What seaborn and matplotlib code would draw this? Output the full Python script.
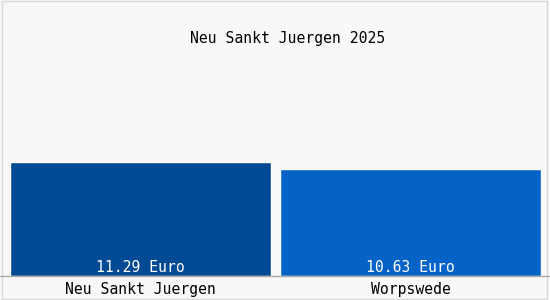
import matplotlib
matplotlib.use("Agg")
import matplotlib.pyplot as plt
import seaborn as sns
import pandas as pd
from matplotlib.patches import Rectangle
from matplotlib.lines import Line2D

categories = ["Neu Sankt Juergen", "Worpswede"]
values = [11.29, 10.63]
value_labels = ["11.29 Euro", "10.63 Euro"]
title = "Neu Sankt Juergen 2025"
colors = ["#034a94", "#0563c8"]

sns.set_theme(style="white")
plt.rcParams["font.family"] = ["DejaVu Sans Mono", "DejaVu Sans"]

bg = "#f8f8f8"
W, H = 550, 300
fig = plt.figure(figsize=(5.5, 3.0), dpi=100, facecolor=bg)
bw = 261 / 270
# axes: x from 10 to 541 px, bottom at 276 px, top at 20 px (top-origin)
ax = fig.add_axes([10 / W, 24 / H, 531 / W, 256 / H])
ax.set_facecolor(bg)

df = pd.DataFrame({"cat": categories, "val": values})
sns.barplot(data=df, x="cat", y="val", hue="cat", palette=colors,
            width=bw, legend=False, ax=ax, saturation=1)

ax.set_ylim(0, 11.29 * 256 / 114)
ax.set_xlim(-bw / 2, 1 + bw / 2)
ax.set_xlabel("")
ax.set_ylabel("")
ax.set_yticks([])
ax.tick_params(axis="x", length=0, labelsize=10.6, pad=4, colors="black")
for s in ax.spines.values():
    s.set_visible(False)

for i, lab in enumerate(value_labels):
    ax.annotate(lab, (i, 0), xytext=(0, 3), textcoords="offset points",
                ha="center", va="baseline", color="white", fontsize=10.6)

fig.text(288 / W, 1 - 38 / H, title, ha="center", va="center", fontsize=10.6, color="black")

# baseline and border
fig.add_artist(Line2D([0, 1], [24 / H, 24 / H], color="#aaaaaa", lw=1))
fig.add_artist(Rectangle((0.004, 0.004), 0.99, 0.993, fill=False, edgecolor="#d8d8d8", lw=1))

fig.savefig("out.png", dpi=100, facecolor=bg)
